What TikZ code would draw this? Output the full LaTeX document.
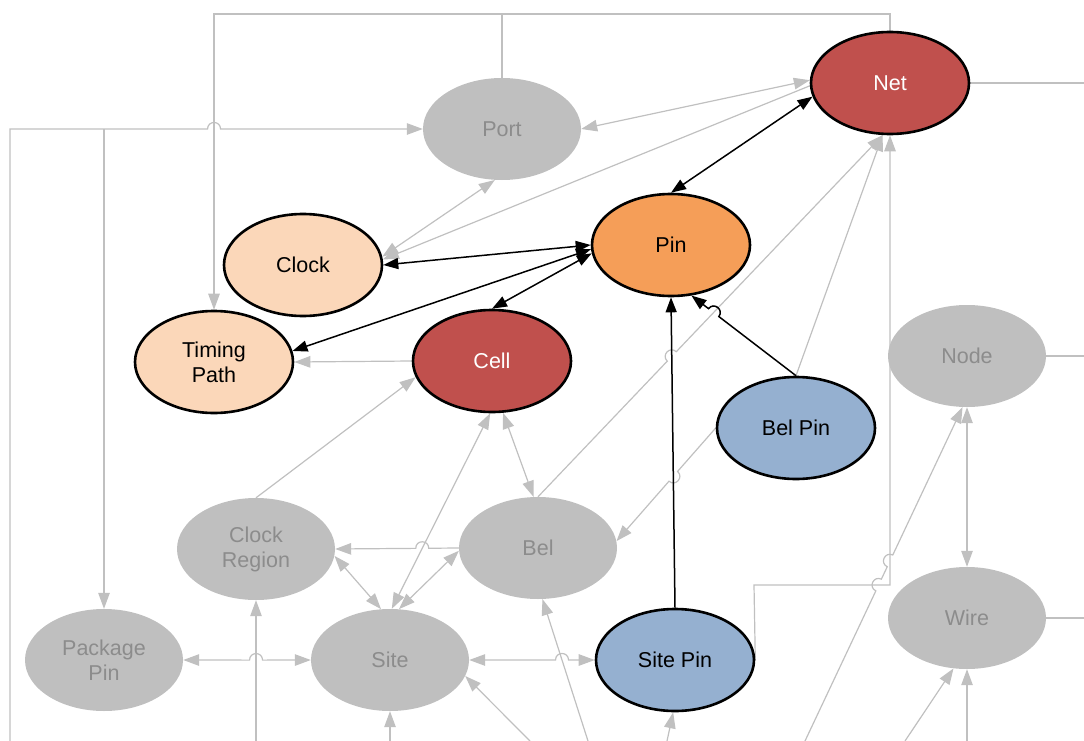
\documentclass[tikz,border=0pt]{standalone}
\usepackage{fontspec}
\setmainfont{Liberation Sans}
\usepackage{tikz}
\usetikzlibrary{calc}
\usetikzlibrary{arrows.meta}
\usetikzlibrary{shapes.geometric}
\usetikzlibrary{backgrounds}
\definecolor{entgray}{HTML}{BFBFBF}
\definecolor{entgraytext}{HTML}{8C8C8C}
\definecolor{linkgray}{HTML}{C0C0C0}
\definecolor{entred}{HTML}{C0504D}
\definecolor{entorange}{HTML}{F59E58}
\definecolor{entpeach}{HTML}{FBD7B9}
\definecolor{entblue}{HTML}{95B0D0}
\tikzset{
  entity/.style={ellipse, minimum width=158pt, minimum height=102pt, inner sep=0pt,
    align=center, font=\fontsize{21.5}{25}\selectfont},
  faded/.style={entity, fill=entgray, text=entgraytext},
  active/.style={entity, draw=black, line width=2.6pt},
  fadedlink/.style={draw=linkgray, line width=1.2pt, >={Triangle[length=16pt,width=11.5pt]}},
  activelink/.style={draw=black, line width=1.5pt, >={Triangle[length=15pt,width=11pt]}},
}
% jump of a link over another one, bulging to the left of the way it runs
\newcommand{\hopover}[3]{-- ($(#2)!6.5pt!(#1)$)
  .. controls ($($(#2)!6.5pt!(#1)$)!8.7pt!90:(#2)$) and ($($(#2)!6.5pt!(#3)$)!8.7pt!-90:(#2)$)
  .. ($(#2)!6.5pt!(#3)$)}

\begin{document}
\begin{tikzpicture}[x=1pt,y=-1pt]
\useasboundingbox (0,0) rectangle (1084,741);
\node[active, fill=entred, text=white] (Net) at (890,83) {Net};
\node[faded] (Port) at (502,129) {Port};
\node[active, fill=entorange] (Pin) at (671,245) {Pin};
\node[active, fill=entpeach] (Clock) at (303,265) {Clock};
\node[active, fill=entpeach] (Timing) at (214,362) {Timing\\Path};
\node[active, fill=entred, text=white] (Cell) at (492,361) {Cell};
\node[faded] (Node) at (967,356) {Node};
\node[active, fill=entblue] (BelPin) at (796,428) {Bel Pin};
\node[faded] (ClockRegion) at (256,549) {Clock\\Region};
\node[faded] (Bel) at (538,548) {Bel};
\node[faded] (PackagePin) at (104,660) {Package\\Pin};
\node[faded] (Site) at (390,660) {Site};
\node[active, fill=entblue] (SitePin) at (675,660) {Site Pin};
\node[faded] (Wire) at (967,618) {Wire};

% free ends
\coordinate (topL) at (214,14);
\coordinate (topP) at (502,14);
\coordinate (topN) at (890,14);
\coordinate (leftB) at (10,741);
\coordinate (leftT) at (10,129);
\coordinate (pkgT) at (104,129);
\coordinate (pinL) at (754,585);
\coordinate (pinR) at (890,585);
\coordinate (netR) at (1084,83);
\coordinate (nodeR) at (1084,356);
\coordinate (wireR) at (1084,618);
\foreach \nm/\bx in {b1/256, b2/390, b3/530, b4/588, b5/667, b6/805, b7/905, b8/967} {
  \coordinate (\nm) at (\bx,741);
}

% crossings
\coordinate (x1) at (intersection of leftT--Port.west and topL--Timing.north);
\coordinate (x2) at (intersection of ClockRegion.east--Bel.west and Cell.268--Site.88);
\coordinate (x3) at (intersection of PackagePin.east--Site.west and b1--ClockRegion.south);
\coordinate (x4) at (intersection of Site.east--SitePin.west and b4--Bel.275);
\coordinate (x5) at (intersection of Bel.north--Net.262 and SitePin.north--Pin.south);
\coordinate (x6) at (intersection of BelPin.west--Bel.5 and SitePin.north--Pin.south);
\coordinate (x7) at (intersection of BelPin.north--Pin.292 and Bel.north--Net.262);
\coordinate (x8) at (intersection of b6--Node.265 and pinL--pinR);
\coordinate (x9) at (intersection of b6--Node.265 and pinR--Net.south);

\begin{pgfonlayer}{background}
% faded links
\draw[fadedlink,->] (Net.north) -- (topN) -- (topL) -- (Timing.north);
\draw[fadedlink] (Port.north) -- (topP);
\draw[fadedlink,->] (leftB) -- (leftT) \hopover{leftT}{x1}{Port.west} -- (Port.west);
\draw[fadedlink,->] (pkgT) -- (PackagePin.north);
\draw[fadedlink,<->] (Port.east) -- (Net.178);
\draw[fadedlink,->] (Net.182) -- (Clock.4);
\draw[fadedlink,<->] (Port.262) -- (Clock.6);
\draw[fadedlink,->] (Cell.west) -- (Timing.east);
\draw[fadedlink,->] (ClockRegion.north) -- (Cell.192);
\draw[fadedlink,<->] (Cell.282) -- (Bel.95);
\draw[fadedlink,<->] (Cell.268) -- (Site.88);
\draw[fadedlink,<->] (Bel.182) -- (Site.80);
\draw[fadedlink,<->] (ClockRegion.355) -- (Site.100);
\draw[fadedlink,<-] (ClockRegion.east) \hopover{ClockRegion.east}{x2}{Bel.west} -- (Bel.west);
\draw[fadedlink,->] (Bel.north) \hopover{Bel.north}{x5}{Net.262} -- (Net.262);
\draw[fadedlink,->] (BelPin.north) -- (Net.262);
\draw[fadedlink,->] (BelPin.west) \hopover{BelPin.west}{x6}{Bel.5} -- (Bel.5);
\draw[fadedlink,->] (SitePin.east) -- (pinL) -- (pinR) -- (Net.south);
\draw[fadedlink,<->] (Node.south) -- (Wire.north);
\draw[fadedlink] (Net.east) -- (netR);
\draw[fadedlink] (Node.east) -- (nodeR);
\draw[fadedlink] (Wire.east) -- (wireR);
\draw[fadedlink,<->] (PackagePin.east) \hopover{PackagePin.east}{x3}{Site.west} -- (Site.west);
\draw[fadedlink,<->] (Site.east) \hopover{Site.east}{x4}{SitePin.west} -- (SitePin.west);
\foreach \src/\tgt in {b1/ClockRegion.south, b2/Site.south, b3/Site.348, b4/Bel.275,
    b5/SitePin.268, b7/Wire.255, b8/Wire.south} {
  \draw[fadedlink,->] (\src) -- (\tgt);
}
\draw[fadedlink,->] (b6) \hopover{b6}{x8}{Node.265} \hopover{b6}{x9}{Node.265} -- (Node.265);

% active links
\draw[activelink,<->] (Pin.north) -- (Net.190);
\draw[activelink,<->] (Pin.180) -- (Clock.east);
\draw[activelink,<->] (Pin.183) -- (Timing.8);
\draw[activelink,<->] (Pin.186) -- (Cell.north);
\draw[activelink,->] (SitePin.north) -- (Pin.south);
\draw[activelink,<-] (Pin.292) \hopover{Pin.292}{x7}{BelPin.north} -- (BelPin.north);
\end{pgfonlayer}
\end{tikzpicture}
\end{document}
